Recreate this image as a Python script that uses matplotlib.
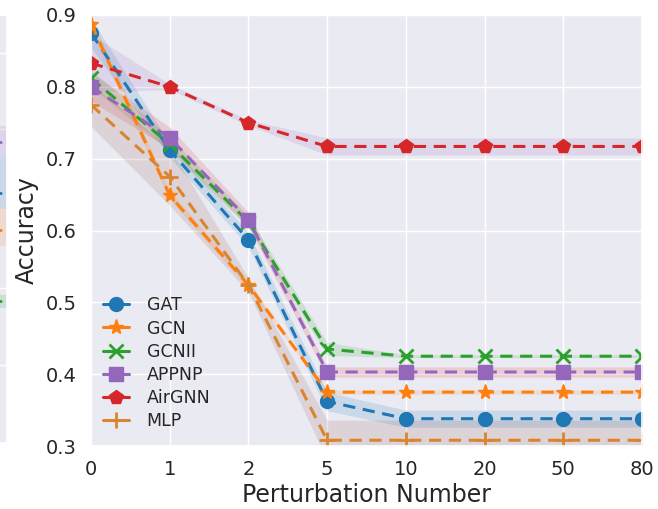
import numpy as np
import matplotlib
matplotlib.use("Agg")
import matplotlib.pyplot as plt
import seaborn as sns
from matplotlib.lines import Line2D

sns.set_theme(style="darkgrid")
plt.rcParams["font.family"] = ["DejaVu Sans"]

# =========================
# DATA
# =========================
x_labels = ["0", "1", "2", "5", "10", "20", "50", "80"]

models = ["GAT", "GCN", "GCNII", "APPNP", "AirGNN", "MLP"]

gat_acc = [0.875, 0.712, 0.587, 0.362, 0.338, 0.338, 0.338, 0.338]
gcn_acc = [0.888, 0.649, 0.524, 0.375, 0.375, 0.375, 0.375, 0.375]
gcnii_acc = [0.812, 0.720, 0.612, 0.435, 0.425, 0.425, 0.425, 0.425]
appnp_acc = [0.800, 0.729, 0.615, 0.403, 0.403, 0.403, 0.403, 0.403]
airgnn_acc = [0.833, 0.800, 0.750, 0.717, 0.717, 0.717, 0.717, 0.717]
mlp_acc = [0.775, 0.675, 0.524, 0.308, 0.308, 0.308, 0.308, 0.308]

gat_std = [0.020, 0.010, 0.010, 0.013, 0.012, 0.012, 0.012, 0.012]
gcn_std = [0.010, 0.006, 0.005, 0.003, 0.003, 0.003, 0.003, 0.003]
gcnii_std = [0.012, 0.010, 0.008, 0.009, 0.002, 0.002, 0.002, 0.002]
appnp_std = [0.020, 0.015, 0.010, 0.007, 0.007, 0.007, 0.007, 0.007]
airgnn_std = [0.040, 0.004, 0.004, 0.012, 0.012, 0.012, 0.012, 0.012]
mlp_std = [0.030, 0.040, 0.010, 0.028, 0.028, 0.028, 0.028, 0.028]

# partial neighbouring panel visible at the left edge
side_bands = [(0.701, 0.744), (0.628, 0.701), (0.576, 0.628), (0.489, 0.507)]
side_lines = [0.722, 0.651, 0.598, 0.499]
side_colors = ["#9467bd", "#1f77b4", "#ff7f0e", "#2ca02c"]
side_grid = [0.847, 0.740, 0.517, 0.410]

# =========================
# STYLE
# =========================
colors = ["#1f77b4", "#ff7f0e", "#2ca02c", "#9467bd", "#d62728", "#d9852f"]
band_colors = ["#1f77b4", "#ff7f0e", "#2ca02c", "#d62728", "#9467bd", "#8c564b"]
markers = ["o", "*", "x", "s", "p", "+"]
msizes = [10, 11, 10, 10, 10, 11]

series = [gat_acc, gcn_acc, gcnii_acc, appnp_acc, airgnn_acc, mlp_acc]
stds = [gat_std, gcn_std, gcnii_std, appnp_std, airgnn_std, mlp_std]

fig = plt.figure(figsize=(6.58, 5.09), dpi=100)

# left sliver panel
side = fig.add_axes([-60 / 658, 66 / 509, 67 / 658, 428 / 509])
side.set_ylim(0.3, 0.9)
side.set_xlim(0, 1)
for (lo, hi), c in zip(side_bands, side_colors):
    side.axhspan(lo, hi, color=c, alpha=0.15, lw=0)
for y, c in zip(side_lines, side_colors):
    side.plot([0.85, 1.0], [y, y], ls=":", color=c, lw=2)
side.set_yticks(side_grid)
side.set_xticks([])
side.set_yticklabels([])
side.tick_params(length=0)

# main panel
ax = fig.add_axes([91 / 658, 63 / 509, 551 / 658, 431 / 509])
xs = np.arange(len(x_labels))

for name, acc, sd, c, bc, m, ms in zip(models, series, stds, colors, band_colors, markers, msizes):
    acc = np.array(acc)
    sd = np.array(sd)
    ax.fill_between(xs, acc - sd, acc + sd, color=bc, alpha=0.15, lw=0)
    ax.plot(xs, acc, ls="--", color=c, lw=2.2, marker=m, markersize=ms,
            markeredgewidth=2 if m in ("x", "+") else 1, markeredgecolor=c,
            dashes=(4, 2.5), clip_on=True)

ax.set_xlim(0, len(x_labels) - 1)
ax.set_ylim(0.3, 0.9)
ax.set_xticks(xs)
ax.set_xticklabels(x_labels, fontsize=14)
ax.set_yticks([0.3, 0.4, 0.5, 0.6, 0.7, 0.8, 0.9])
ax.set_yticklabels(["0.3", "0.4", "0.5", "0.6", "0.7", "0.8", "0.9"], fontsize=14)
ax.tick_params(pad=4)
ax.set_xlabel("Perturbation Number", fontsize=17, labelpad=3)
ax.set_ylabel("Accuracy", fontsize=17, labelpad=5)

handles = [Line2D([], [], color=c, lw=2.2, marker=m, markersize=ms,
                  markeredgewidth=2 if m in ("x", "+") else 1)
           for c, m, ms in zip(colors, markers, msizes)]
ax.legend(handles, models, loc="lower left", bbox_to_anchor=(0.0, 0.008),
          frameon=False, fontsize=12.5, handlelength=1.5, handletextpad=1.0,
          labelspacing=0.3, borderaxespad=0.3)

fig.savefig("out.png", dpi=100)
